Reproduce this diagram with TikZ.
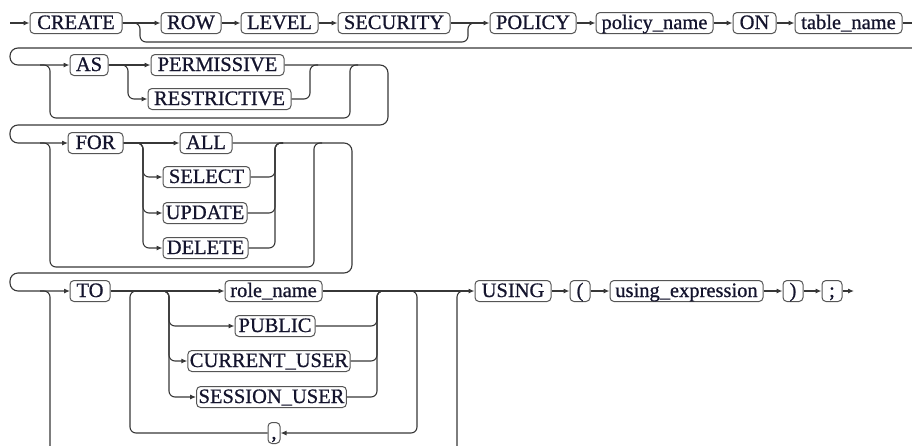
\documentclass[tikz,border=0pt]{standalone}
\usepackage{fontspec}
\setmainfont{Liberation Serif}
\newfontfamily\railfont{Liberation Serif}[FakeBold=0.8]
\usetikzlibrary{arrows.meta}

\definecolor{railgray}{RGB}{55,55,55}
\definecolor{boxgray}{RGB}{85,85,85}
\definecolor{termtext}{RGB}{20,20,45}

\tikzset{
  term/.style={draw=boxgray, line width=1pt, rounded corners=4pt, fill=white, text=termtext,
    inner xsep=2pt, inner ysep=1.5pt, minimum height=21pt,
    text height=15pt, text depth=3pt, font=\railfont\fontsize{20.5}{21}\selectfont},
  rail/.style={draw=railgray, line width=1.1pt, rounded corners=6pt},
}

\begin{document}
\begin{tikzpicture}[x=1pt, y=-1pt, >={Latex[length=6pt,width=5pt]}]
		\useasboundingbox (0,0) rectangle (912,445);

		% 1. First row: CREATE [ROW LEVEL SECURITY] POLICY policy_name ON table_name
		\coordinate (start) at (10,23);
		\node[term, minimum width=92] (create) at (76,23) {CREATE};
		\node[term, minimum width=60] (row) at (191,23) {ROW};
		\node[term, minimum width=77] (level) at (279.5,23) {LEVEL};
		\node[term, minimum width=112] (security) at (394,23) {SECURITY};
		\node[term, minimum width=86] (policy) at (533,23) {POLICY};
		\node[term, minimum width=117] (policyname) at (654.5,23) {policy\_name};
		\node[term, minimum width=43] (on) at (754.5,23) {ON};
		\node[term, minimum width=107] (tablename) at (848.5,23) {table\_name};
		\coordinate (end1) at (912,23);

		\foreach \a/\b in {start/create, create/row, row/level, level/security,
		                   security/policy, policy/policyname, policyname/on, on/tablename}
			\draw[rail,->] (\a) -- (\b);
		\draw[rail] (tablename) -- (end1);
		% skip over ROW LEVEL SECURITY
		\draw[rail] (create.east) -- (140,23) -- (140,42) -- (468,42) -- (468,23) -- (476,23);

		% 2. Second row: [ AS { PERMISSIVE | RESTRICTIVE } ]
		\coordinate (wrap1) at (912,48);
		\node[term, minimum width=38] (as) at (89,65) {AS};
		\node[term, minimum width=133] (permissive) at (217.5,65) {PERMISSIVE};
		\node[term, minimum width=143] (restrictive) at (219.5,99) {RESTRICTIVE};

		\draw[rail,->,rounded corners=8pt] (wrap1) -- (10,48) -- (10,65) -- (as);
		\draw[rail,->] (as) -- (permissive);
		\draw[rail,->] (as.east) -- (128,65) -- (128,99) -- (restrictive);
		\draw[rail] (restrictive) -- (310,99) -- (310,65) -- (318,65);
		% skip over the whole AS part
		\draw[rail] (40,65) -- (50,65) -- (50,118) -- (350,118) -- (350,65) -- (358,65);
		% on to the next row
		\draw[rail,->,rounded corners=8pt] (permissive) -- (388,65) -- (388,125) -- (10,125) -- (10,143) -- +(58,0);

		% 3. Third row: [ FOR { ALL | SELECT | UPDATE | DELETE } ]
		\node[term, minimum width=55] (for) at (95.5,143) {FOR};
		\node[term, minimum width=52] (all) at (206,143) {ALL};
		\node[term, minimum width=87] (select) at (206.5,177) {SELECT};
		\node[term, minimum width=84] (update) at (205,213) {UPDATE};
		\node[term, minimum width=85] (delete) at (205.5,248) {DELETE};

		\draw[rail,->] (for) -- (all);
		\foreach \n/\y in {select/177, update/213, delete/248} {
			\draw[rail,->] (for.east) -- (143,143) -- (143,\y) -- (\n);
			\draw[rail] (\n) -- (275,\y) -- (275,143) -- (283,143);
		}
		% skip over the whole FOR part
		\draw[rail] (40,143) -- (50,143) -- (50,267) -- (314,267) -- (314,143) -- (322,143);
		% on to the next row
		\draw[rail,->,rounded corners=8pt] (all) -- (352,143) -- (352,273) -- (10,273) -- (10,291) -- +(60,0);

		% 4. Fourth row: [ TO { role_name | PUBLIC | ... } [, ...] ] USING ( using_expression ) ;
		\node[term, minimum width=40] (to) at (90,291) {TO};
		\node[term, minimum width=97] (rolename) at (273.5,291) {role\_name};
		\node[term, minimum width=80] (public) at (275,326) {PUBLIC};
		\node[term, minimum width=162] (currentuser) at (269,361) {CURRENT\_USER};
		\node[term, minimum width=143] (sessionuser) at (271.5,397) {SESSION\_USER};
		\node[term, minimum width=12] (comma) at (274,433) {,};

		\draw[rail,->] (to) -- (rolename);
		\foreach \n/\y in {public/326, currentuser/361, sessionuser/397} {
			\draw[rail,->] (161,291) -- (169,291) -- (169,\y) -- (\n);
			\draw[rail] (\n) -- (377,\y) -- (377,291) -- (385,291);
		}
		% repeat with a comma
		\draw[rail,->] (409,291) -- (417,291) -- (417,433) -- (comma);
		\draw[rail] (comma) -- (130,433) -- (130,291) -- (138,291);
		% skip over the whole TO part
		\draw[rail] (40,291) -- (50,291) -- (50,450);
		\draw[rail] (457,450) -- (457,291) -- (465,291);

		\node[term, minimum width=76] (using) at (513,291) {USING};
		\node[term, minimum width=20] (lparen) at (580,291) {(};
		\node[term, minimum width=153] (usingexpr) at (686.5,291) {using\_expression};
		\node[term, minimum width=20] (rparen) at (793,291) {)};
		\node[term, minimum width=20] (semi) at (832,291) {;};
		\coordinate (finish) at (854,291);

		\draw[rail,->] (rolename) -- (using);
		\foreach \a/\b in {using/lparen, lparen/usingexpr, usingexpr/rparen, rparen/semi, semi/finish}
			\draw[rail,->] (\a) -- (\b);
	\end{tikzpicture}
\end{document}
